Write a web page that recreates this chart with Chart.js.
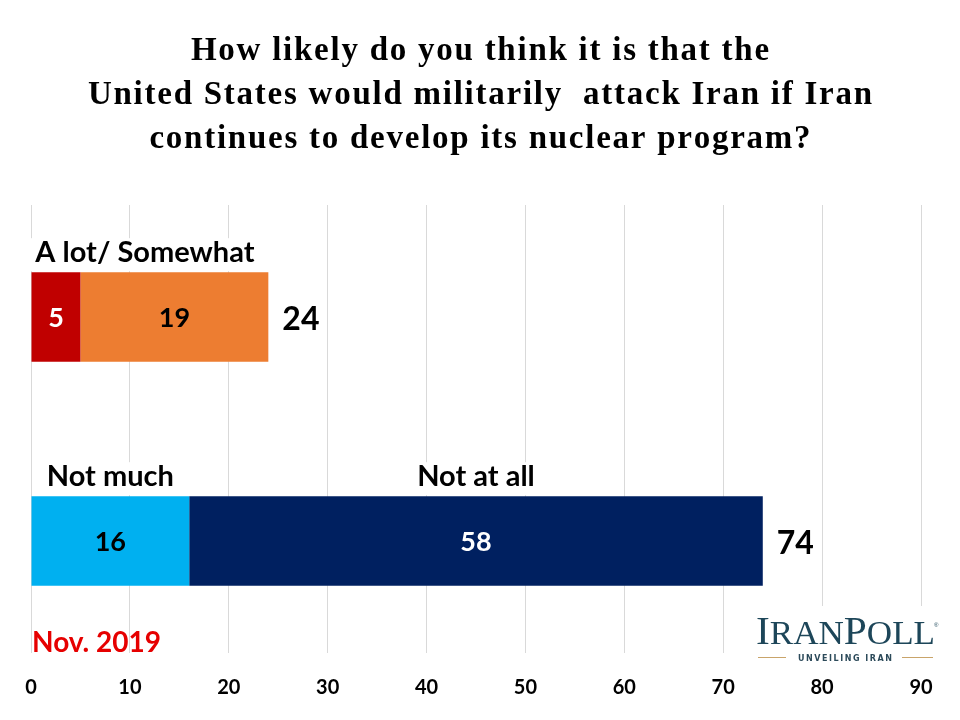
<!DOCTYPE html>
<html><head><meta charset="utf-8">
<script src="https://cdn.jsdelivr.net/npm/chart.js@4/dist/chart.umd.min.js"></script>
<style>html,body{margin:0;padding:0;background:#fff}canvas{display:block}</style>
</head><body>
<canvas id="c" width="960" height="720"></canvas>
<script>
// ---- data ----
const titleLines = ['How likely do you think it is that the', 'United States would militarily  attack Iran if Iran', 'continues to develop its nuclear program?'];
const categories = ['Likely', 'Not likely'];
const firstSegment = [5, 16];      // A lot / Not much
const secondSegment = [19, 58];    // Somewhat / Not at all
const firstColors = ['#c00000', '#00b0f0'];
const secondColors = ['#ed7d31', '#002060'];
const firstLabelColors = ['#ffffff', '#000000'];
const secondLabelColors = ['#000000', '#ffffff'];
const topHeader = 'A lot/ Somewhat';
const bottomHeaders = ['Not much', 'Not at all'];
const xTicks = [0, 10, 20, 30, 40, 50, 60, 70, 80, 90];
const dateNote = 'Nov. 2019';

const SANS = 'Lato, "Open Sans", sans-serif';

function spacedText(ctx, text, cx, y, spacing) {
  let w = 0;
  for (const ch of text) w += ctx.measureText(ch).width + spacing;
  w -= spacing;
  let x = cx - w / 2;
  ctx.textAlign = 'left';
  for (const ch of text) {
    ctx.fillText(ch, x, y);
    x += ctx.measureText(ch).width + spacing;
  }
}

const overlay = {
  id: 'overlay',
  beforeDraw(chart) {
    const ctx = chart.ctx;
    ctx.save();
    ctx.fillStyle = '#000';
    ctx.textBaseline = 'alphabetic';
    ctx.font = 'bold 33px "Liberation Serif", serif';
    const baselines = [60, 104, 148];
    titleLines.forEach((t, i) => spacedText(ctx, t, 480, baselines[i], 1.75));
    ctx.restore();
  },
  afterDatasetsDraw(chart) {
    const ctx = chart.ctx;
    const xs = chart.scales.x;
    const m0 = chart.getDatasetMeta(0);
    const m1 = chart.getDatasetMeta(1);
    ctx.save();
    ctx.textAlign = 'center';
    ctx.textBaseline = 'middle';
    // values inside segments
    ctx.font = 'bold 27px ' + SANS;
    m0.data.forEach((bar, i) => {
      ctx.fillStyle = firstLabelColors[i];
      ctx.fillText(String(firstSegment[i]), (bar.base + bar.x) / 2, bar.y + 1);
    });
    m1.data.forEach((bar, i) => {
      ctx.fillStyle = secondLabelColors[i];
      ctx.fillText(String(secondSegment[i]), (bar.base + bar.x) / 2, bar.y + 1);
    });
    // totals
    ctx.font = 'bold 32px ' + SANS;
    ctx.textAlign = 'left';
    ctx.fillStyle = '#000';
    m1.data.forEach((bar, i) => {
      const total = firstSegment[i] + secondSegment[i];
      ctx.fillText(String(total), bar.x + 14, bar.y + 3);
    });
    // headers
    ctx.font = 'bold 29px ' + SANS;
    ctx.textAlign = 'center';
    ctx.textBaseline = 'alphabetic';
    const drawHeader = (text, cx, barTop) => {
      const w = ctx.measureText(text).width;
      ctx.fillStyle = '#fff';
      ctx.fillRect(cx - w / 2 - 8, barTop - 34, w + 16, 33);
      ctx.fillStyle = '#000';
      ctx.fillText(text, cx, barTop - 10);
    };
    const b0 = m0.data[0], b1 = m1.data[0];
    drawHeader(topHeader, (b0.base + b1.x) / 2 - 5, b0.y - b0.height / 2);
    const c0 = m0.data[1], c1 = m1.data[1];
    drawHeader(bottomHeaders[0], (c0.base + c0.x) / 2, c0.y - c0.height / 2);
    drawHeader(bottomHeaders[1], (c1.base + c1.x) / 2, c1.y - c1.height / 2);
    // date note
    ctx.textAlign = 'left';
    ctx.fillStyle = '#e60000';
    ctx.font = 'bold 28px ' + SANS;
    ctx.fillText(dateNote, xs.getPixelForValue(0) + 1, 652);
    // logo
    ctx.fillStyle = '#fff';
    ctx.fillRect(748, 606, 195, 60);
    const parts = [['I', 39], ['RAN', 33], ['P', 39], ['OLL', 33]];
    let nat = 0;
    parts.forEach(([t, s]) => {
      ctx.font = s + 'px "Liberation Serif", serif';
      nat += ctx.measureText(t).width;
    });
    const sx = 179 / nat;
    ctx.save();
    ctx.translate(756, 643.5);
    ctx.scale(sx, 1);
    ctx.fillStyle = '#1d4659';
    let x = 0;
    parts.forEach(([t, s]) => {
      ctx.font = s + 'px "Liberation Serif", serif';
      ctx.fillText(t, x, 0);
      x += ctx.measureText(t).width;
    });
    ctx.restore();
    ctx.fillStyle = '#1d4659';
    ctx.font = '6px sans-serif';
    ctx.fillText('\u00ae', 934, 627);
    ctx.font = 'bold 8px "DejaVu Sans", sans-serif';
    ctx.fillStyle = '#2c4a5a';
    const tag = 'UNVEILING IRAN';
    let tw = 0;
    for (const ch of tag) tw += ctx.measureText(ch).width;
    const sp = (94 - tw) / (tag.length - 1);
    let ux = 798;
    for (const ch of tag) {
      ctx.fillText(ch, ux, 660.5);
      ux += ctx.measureText(ch).width + sp;
    }
    ctx.strokeStyle = '#c9a46a';
    ctx.lineWidth = 1;
    ctx.beginPath();
    ctx.moveTo(758, 657.5); ctx.lineTo(786, 657.5);
    ctx.moveTo(902, 657.5); ctx.lineTo(933, 657.5);
    ctx.stroke();
    ctx.restore();
  }
};

new Chart(document.getElementById('c'), {
  type: 'bar',
  data: {
    labels: categories,
    datasets: [
      { data: firstSegment, backgroundColor: firstColors, borderWidth: 0 },
      { data: secondSegment, backgroundColor: secondColors, borderWidth: 0 }
    ]
  },
  options: {
    indexAxis: 'y',
    responsive: false,
    animation: false,
    layout: { padding: { left: 31, right: 39, top: 205, bottom: 20 } },
    datasets: { bar: { barPercentage: 0.4, categoryPercentage: 1 } },
    plugins: {
      legend: { display: false },
      tooltip: { enabled: false },
      title: { display: false }
    },
    scales: {
      x: {
        stacked: true,
        min: 0, max: 90,
        afterBuildTicks: (s) => { s.ticks = xTicks.map(v => ({ value: v })); },
        afterFit: (s) => { s.height = 47; },
        grid: { color: '#d9d9d9', lineWidth: 1, drawTicks: false },
        border: { display: false },
        ticks: { color: '#000', padding: 23, font: { family: SANS, size: 20, weight: 'bold' } }
      },
      y: { stacked: true, display: false }
    }
  },
  plugins: [overlay]
});
</script>
</body></html>
